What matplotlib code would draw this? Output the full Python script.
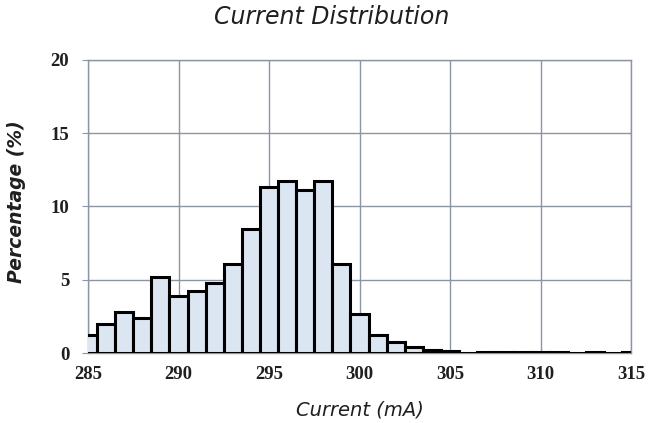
import matplotlib
matplotlib.use("Agg")
import matplotlib.pyplot as plt

# Histogram bins (1 mA wide, centred on whole mA values) and their share in percent
bin_centers = [285, 286, 287, 288, 289, 290, 291, 292, 293, 294, 295, 296, 297, 298,
               299, 300, 301, 302, 303, 304, 305, 306, 307, 308, 309, 310, 311,
               312, 313, 314, 315]
percentages = [1.2, 2.0, 2.8, 2.4, 5.2, 3.9, 4.2, 4.8, 6.1, 8.45, 11.35, 11.75, 11.1, 11.75,
               6.05, 2.65, 1.2, 0.75, 0.4, 0.18, 0.15, 0.0, 0.06, 0.04, 0.04, 0.04, 0.04,
               0.0, 0.1, 0.0, 0.06]

x_ticks = [285, 290, 295, 300, 305, 310, 315]
y_ticks = [0, 5, 10, 15, 20]

W, H = 658, 423
fig = plt.figure(figsize=(W / 100, H / 100), dpi=100)
ax = fig.add_axes([88 / W, 1 - 353 / H, (631 - 88) / W, (353 - 60) / H])

grid_color = "#8c95a4"
text_color = "#1f1f1f"
ax.bar(bin_centers, percentages, width=1.0, align="center",
       color="#dce6f2", edgecolor="black", linewidth=2.2, zorder=3, clip_on=True)

ax.set_xlim(285, 315)
ax.set_ylim(0, 20)
ax.set_xticks(x_ticks)
ax.set_yticks(y_ticks)
ax.grid(True, color=grid_color, linewidth=1.0, zorder=0)
for side in ("left", "right", "top", "bottom"):
    ax.spines[side].set_color(grid_color)
    ax.spines[side].set_linewidth(1.0)

tick_font = dict(family="Liberation Serif", weight="bold", size=13.5)
ax.set_xticklabels([str(v) for v in x_ticks], **tick_font)
ax.set_yticklabels([str(v) for v in y_ticks], **tick_font)
ax.tick_params(axis="y", length=4.5, color=grid_color, pad=9, labelcolor=text_color)
ax.tick_params(axis="x", length=0, pad=9, labelcolor=text_color)

fig.text(332 / W, 1 - 17 / H, "Current Distribution", family="DejaVu Sans",
         style="italic", size=17, color=text_color, ha="center", va="center")

ax.set_xlabel("Current (mA)", family="DejaVu Sans", style="italic",
              size=14, color=text_color, va="center")
ax.xaxis.set_label_coords(0.5, (353 - 410) / 293)
ax.set_ylabel("Percentage (%)", family="DejaVu Sans", style="italic", weight="bold",
              size=13.5, color=text_color, va="center", ha="center")
ax.yaxis.set_label_coords((17 - 88) / 543, (353 - 202) / 293)

fig.savefig("out.png", dpi=100)
